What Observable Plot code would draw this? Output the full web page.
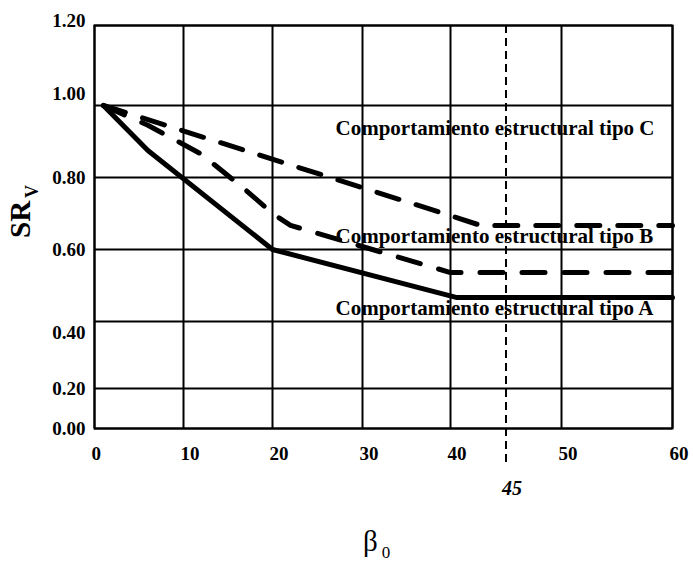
<!DOCTYPE html>
<html>
<head>
<meta charset="utf-8">
<script src="https://cdn.jsdelivr.net/npm/d3@7"></script>
<script src="https://cdn.jsdelivr.net/npm/@observablehq/plot@0.6"></script>
<style>
  html, body { margin: 0; padding: 0; background: #fff; }
  svg { display: block; }
  #wrap { position: relative; width: 693px; height: 561px; }
  #ytitle {
    position: absolute; left: 0; top: 0;
    transform-origin: 0 0;
    transform: translate(6px, 238px) rotate(-90deg);
    font-family: "Liberation Serif", "Times New Roman", serif;
    font-weight: bold; font-size: 29px; line-height: 29px;
    white-space: nowrap; color: black;
  }
  #ytitle .sub { font-size: 18px; position: relative; top: 8px; margin-left: 3px; }
</style>
</head>
<body>
<div id="wrap"><div id="chart"></div><div id="ytitle"></div></div>
<script>
// ---- data ----
const xTicks = [0, 10, 20, 30, 40, 50, 60];
const xTickLabels = ["0", "10", "20", "30", "40", "50", "60"];
const yTicks = [0, 0.2, 0.4, 0.6, 0.8, 1.0, 1.2];
const yTickLabels = ["0.00", "0.20", "0.40", "0.60", "0.80", "1.00", "1.20"];

// Comportamiento estructural tipo A (solid)
const xA = [1, 6, 20, 40.5, 60];
const yA = [1.0, 0.875, 0.6, 0.467, 0.467];
// tipo B (dashed, lower)
const xB = [1, 6, 12, 17, 20, 22, 40, 60];
const yB = [1.0, 0.945, 0.865, 0.765, 0.70, 0.667, 0.536, 0.536];
// tipo C (dashed, upper)
const xC = [1, 40, 42.7, 60];
const yC = [1.0, 0.694, 0.667, 0.667];

const seriesLabels = ["Comportamiento estructural tipo C", "Comportamiento estructural tipo B", "Comportamiento estructural tipo A"];
const labelX = [27, 27, 27];
const labelY = [0.917, 0.619, 0.417];

const refX = [45];
const refLabel = ["45"];

const yTitle = ["SR", "V"];
const xTitle = ["β", "0"];

// ---- build ----
const toPts = (xs, ys) => xs.map((x, i) => ({x, y: ys[i]}));
const A = toPts(xA, yA), B = toPts(xB, yB), C = toPts(xC, yC);
const labels = seriesLabels.map((t, i) => ({t, x: labelX[i], y: labelY[i]}));
const yTickData = yTicks.map((v, i) => ({v, l: yTickLabels[i]}));
const xTickData = xTicks.map((v, i) => ({v, l: xTickLabels[i]}));

const FF = "Liberation Serif, Times New Roman, serif";
const yLab = (vals, dy) => Plot.text(yTickData.filter(d => vals.includes(d.v)), {
  y: "v", text: "l", frameAnchor: "left", textAnchor: "end", lineAnchor: "middle",
  dx: -9, dy, fontSize: 19, fontWeight: "bold", fontFamily: FF, fill: "black"
});

const chart = Plot.plot({
  width: 693,
  height: 561,
  marginLeft: 94, marginRight: 21, marginTop: 25, marginBottom: 133,
  x: {type: "linear", domain: xTicks, range: [94, 183, 272, 362, 450, 561, 672], axis: null},
  y: {type: "linear", domain: yTicks, range: [428, 388, 321, 249, 177, 105, 25], axis: null},
  style: {background: "white", fontFamily: FF},
  marks: [
    Plot.ruleY(yTicks, {y: d => d, x1: 0, x2: 60, stroke: "black", strokeWidth: 2}),
    Plot.ruleX(xTicks, {x: d => d, y1: 0, y2: 1.2, stroke: "black", strokeWidth: 2}),
    Plot.ruleX(refX, {x: d => d, y1: 1.2, y2: 0, insetBottom: -37, stroke: "black", strokeWidth: 2, strokeDasharray: "8,5"}),
    Plot.frame({stroke: "black", strokeWidth: 2}),
    Plot.line(C, {x: "x", y: "y", stroke: "black", strokeWidth: 5, strokeDasharray: "23,18", strokeLinejoin: "miter"}),
    Plot.line(B, {x: "x", y: "y", stroke: "black", strokeWidth: 5, strokeDasharray: "23,19", strokeLinejoin: "round"}),
    Plot.line(A, {x: "x", y: "y", stroke: "black", strokeWidth: 5, strokeLinejoin: "miter"}),
    Plot.text(labels, {x: "x", y: "y", text: "t", textAnchor: "start", lineAnchor: "bottom",
      fontSize: 21, fontWeight: "bold", fontFamily: FF, fill: "black"}),
    // y tick labels
    yLab([0, 0.2, 0.6, 0.8], 0),
    yLab([1.2], -5),
    yLab([1.0], -12),
    yLab([0.4], 11),
    // x tick labels
    Plot.text(xTickData, {x: "v", text: "l", frameAnchor: "bottom", textAnchor: "start", lineAnchor: "bottom",
      dx: -3, dy: 31, fontSize: 19, fontWeight: "bold", fontFamily: FF, fill: "black"}),
    // reference 45 label
    Plot.text(refX, {x: d => d, text: (d, i) => refLabel[i], frameAnchor: "bottom", textAnchor: "middle", lineAnchor: "bottom",
      dx: 6, dy: 66, fontSize: 20, fontWeight: "bold", fontStyle: "italic", fontFamily: FF, fill: "black"})
  ]
});

// x-axis title with subscript
const svg = d3.select(chart);
const xt = svg.append("text")
  .attr("x", 363).attr("y", 551)
  .attr("text-anchor", "start")
  .attr("font-family", FF)
  .attr("font-size", 29)
  .attr("fill", "black");
xt.append("tspan").text(xTitle[0]);
xt.append("tspan").attr("font-size", 17).attr("dx", 4).attr("dy", 7).text(xTitle[1]);

document.getElementById("chart").appendChild(chart);

// y-axis title (rotated, HTML overlay)
const yDiv = d3.select("#ytitle");
yDiv.append("span").text(yTitle[0]);
yDiv.append("span").attr("class", "sub").text(yTitle[1]);
</script>
</body>
</html>
